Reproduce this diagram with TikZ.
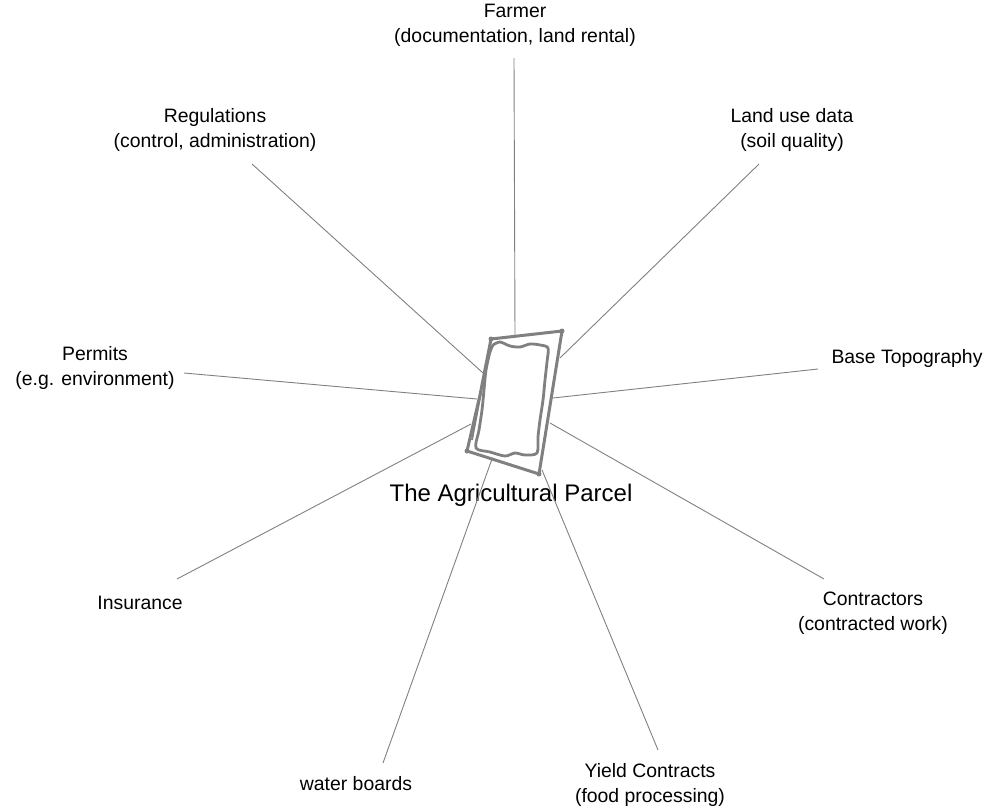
\documentclass[tikz,border=0pt]{standalone}
\usepackage{fontspec}
\setmainfont{Liberation Sans}
\begin{document}
\begin{tikzpicture}[x=1pt,y=-1pt,
  lbl/.style={align=center,font=\fontsize{19.4}{25}\selectfont,inner sep=0pt,text=black},
  link/.style={draw=gray,line width=0.9pt},
  parcel/.style={draw=gray,line width=3pt,line join=round,line cap=round},
  corner/.style={circle,fill=gray,inner sep=0pt,minimum size=5pt}]
\useasboundingbox (0,0) rectangle (993,811);
% labels
\node[lbl] (farmer) at (515,25) {Farmer\\(documentation, land rental)};
\node[lbl] (regul) at (215,130) {Regulations\\(control, administration)};
\node[lbl] (landuse) at (792,130) {Land use data\\(soil quality)};
\node[lbl] (permits) at (95,368) {Permits\\(e.g. environment)};
\node[lbl] (topo) at (907,358) {Base Topography};
\node[lbl] (ins) at (140,603) {Insurance};
\node[lbl] (contr) at (873,613) {Contractors\\(contracted work)};
\node[lbl] (water) at (356,784) {water boards};
\node[lbl] (yield) at (650,785) {Yield Contracts\\(food processing)};
\node[inner sep=0pt,font=\fontsize{24}{28}\selectfont] (parcelname) at (511,495) {The Agricultural Parcel};
% connector ends
\coordinate (fA) at (514,58);   \coordinate (fB) at (515,337);
\coordinate (rA) at (252,164);  \coordinate (rB) at (483,373);
\coordinate (lA) at (759,164);  \coordinate (lB) at (560,358);
\coordinate (pA) at (184,373);  \coordinate (pB) at (477,399);
\coordinate (tA) at (818,369);  \coordinate (tB) at (553,398);
\coordinate (iA) at (177,579);  \coordinate (iB) at (471,424);
\coordinate (cA) at (824,579);  \coordinate (cB) at (550,423);
\coordinate (wA) at (383,763);  \coordinate (wB) at (492,459);
\coordinate (yA) at (658,750);  \coordinate (yB) at (542,470);
\draw[link] (fA) -- (fB);
\draw[link] (rA) -- (rB);
\draw[link] (lA) -- (lB);
\draw[link] (pA) -- (pB);
\draw[link] (tA) -- (tB);
\draw[link] (iA) -- (iB);
\draw[link] (cA) -- (cB);
\draw[link] (wA) -- (wB);
\draw[link] (yA) -- (yB);
% parcel outline
\coordinate (q1) at (491,339);
\coordinate (q2) at (562,331);
\coordinate (q3) at (539,474);
\coordinate (q4) at (467,451);
\draw[parcel] (q1) -- (q2) -- (q3) -- (q4) -- (480,395) -- (q1) -- cycle;
\draw[gray,line width=1.8pt] (490,345) -- (472,440);
\foreach \c in {q1,q2,q3,q4} \node[corner] at (\c) {};
% inner wavy outline
\draw[parcel,line width=2.8pt] plot[smooth] coordinates {
 (493,345) (500,342) (510,346) (520,347) (530,344) (540,345) (548,348)
 (547,362) (545,380) (543,400) (540,420) (538,437) (537,453)
 (525,455) (515,453) (505,456) (490,452) (476,448)
 (479,430) (482,410) (484,390) (486,370) (490,352) (493,345)};
\end{tikzpicture}
\end{document}
